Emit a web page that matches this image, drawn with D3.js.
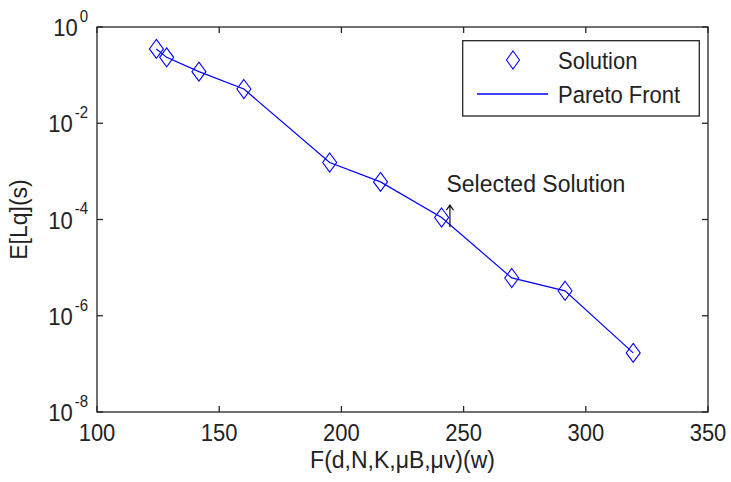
<!DOCTYPE html>
<html>
<head>
<meta charset="utf-8">
<script src="https://cdn.jsdelivr.net/npm/d3@7"></script>
<style>
  html, body { margin: 0; padding: 0; background: #fff; }
  svg { display: block; }
  text { font-family: "Liberation Sans", Arial, sans-serif; fill: #222; }
</style>
</head>
<body>
<svg id="chart" width="731" height="482"></svg>
<script>
// ---- data ----
const xValues = [124.3, 128.5, 141.7, 160.1, 195.2, 216.0, 241.0, 269.7, 291.5, 319.4];
const yValues = [0.35, 0.234, 0.118, 0.0514, 1.53e-3, 6.05e-4, 1.1e-4, 6.1e-6, 3.3e-6, 1.69e-7];
const xTicks = [100, 150, 200, 250, 300, 350];
const yTickExponents = [0, -2, -4, -6, -8];
const seriesNames = ["Solution", "Pareto Front"];
const annotationText = "Selected Solution";
const annotationX = [243.0, 244.4];          // text x, arrow x (data units)
const annotationY = [10 ** -3.43, 10 ** -3.70, 10 ** -4.16]; // text baseline, arrow head, arrow tail
const xLabel = "F(d,N,K,\u03bcB,\u03bcv)(w)";
const yLabel = "E[Lq](s)";

// ---- layout ----
const svg = d3.select("#chart");
const m = { left: 97, top: 27, right: 731 - 708, bottom: 482 - 412 };
const W = 731 - m.left - m.right, H = 482 - m.top - m.bottom;
const x = d3.scaleLinear().domain([100, 350]).range([m.left, m.left + W]);
const y = d3.scaleLog().domain([1e-8, 1]).range([m.top + H, m.top]);
const axisColor = "#262626";
const blue = "#0000ff";
const SY = 1.08; // slight vertical stretch of the glyphs, as in the reference

// text helper: places a text whose baseline anchor is (tx, ty), stretched vertically
function label(parent, tx, ty, anchor, size, rot) {
  const g = parent.append("g")
    .attr("transform", `translate(${tx},${ty})` + (rot ? ` rotate(${rot})` : "") + ` scale(1,${SY})`);
  return g.append("text").attr("x", 0).attr("y", 0).attr("text-anchor", anchor).style("font-size", size + "px");
}

// plot box
svg.append("rect").attr("x", m.left).attr("y", m.top).attr("width", W).attr("height", H)
  .attr("fill", "#fff").attr("stroke", axisColor).attr("stroke-width", 1.3);

const tickLen = 6;
// x ticks (bottom and top, inward)
xTicks.forEach(t => {
  const px = x(t);
  svg.append("line").attr("x1", px).attr("x2", px).attr("y1", m.top + H).attr("y2", m.top + H - tickLen)
    .attr("stroke", axisColor).attr("stroke-width", 1.3);
  svg.append("line").attr("x1", px).attr("x2", px).attr("y1", m.top).attr("y2", m.top + tickLen)
    .attr("stroke", axisColor).attr("stroke-width", 1.3);
  label(svg, px, m.top + H + 29, "middle", 22).text(t);
});
// y ticks (left and right, inward)
yTickExponents.forEach(e => {
  const py = y(10 ** e);
  svg.append("line").attr("x1", m.left).attr("x2", m.left + tickLen).attr("y1", py).attr("y2", py)
    .attr("stroke", axisColor).attr("stroke-width", 1.3);
  svg.append("line").attr("x1", m.left + W).attr("x2", m.left + W - tickLen).attr("y1", py).attr("y2", py)
    .attr("stroke", axisColor).attr("stroke-width", 1.3);
  const t = label(svg, m.left - 9, py + 9, "end", 22);
  t.append("tspan").text("10");
  t.append("tspan").attr("dx", 2).attr("dy", -13).style("font-size", "15px").text(e);
});

// axis labels
label(svg, m.left + W / 2, 468, "middle", 23).text(xLabel);
label(svg, 27, m.top + H / 2, "middle", 23, -90).text(yLabel);

// line
const pts = xValues.map((v, i) => [v, yValues[i]]);
svg.append("path").datum(pts)
  .attr("d", d3.line().x(d => x(d[0])).y(d => y(d[1])))
  .attr("fill", "none").attr("stroke", blue).attr("stroke-width", 1.2);

// diamond markers
const diamond = (w, h) => `M0,${-h/2}L${w/2},0L0,${h/2}L${-w/2},0Z`;
svg.append("g").selectAll("path").data(pts).join("path")
  .attr("transform", d => `translate(${x(d[0])},${y(d[1])})`)
  .attr("d", diamond(14, 19)).attr("fill", "none").attr("stroke", blue).attr("stroke-width", 1.1);

// annotation
label(svg, x(annotationX[0]), y(annotationY[0]), "start", 23).text(annotationText);
const ax = x(annotationX[1]), ah = y(annotationY[1]), at = y(annotationY[2]);
svg.append("path").attr("d", `M${ax},${at}L${ax},${ah}M${ax - 3.5},${ah + 5}L${ax},${ah}L${ax + 3.5},${ah + 5}`)
  .attr("fill", "none").attr("stroke", "#111").attr("stroke-width", 1.2);

// legend
const lg = svg.append("g");
lg.append("rect").attr("x", 462.7).attr("y", 40.7).attr("width", 699.3 - 462.7).attr("height", 116 - 40.7)
  .attr("fill", "#fff").attr("stroke", axisColor).attr("stroke-width", 1.3);
lg.append("path").attr("transform", "translate(513,60)").attr("d", diamond(13, 18))
  .attr("fill", "none").attr("stroke", blue).attr("stroke-width", 1.1);
lg.append("line").attr("x1", 477).attr("x2", 548).attr("y1", 94).attr("y2", 94)
  .attr("stroke", blue).attr("stroke-width", 1.3);
label(lg, 558, 69, "start", 22).text(seriesNames[0]);
label(lg, 558, 103, "start", 22).text(seriesNames[1]);
</script>
</body>
</html>
